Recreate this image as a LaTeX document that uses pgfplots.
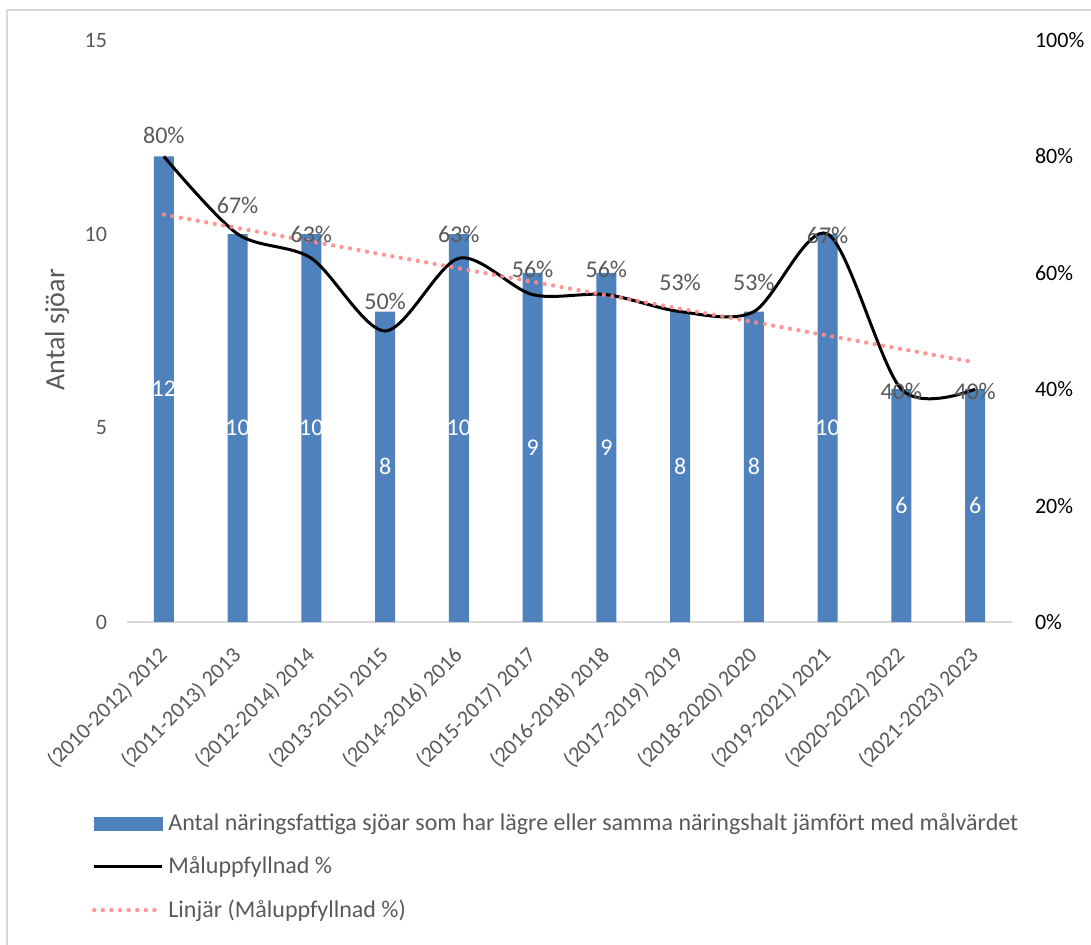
\documentclass[border=0pt]{standalone}
\usepackage{fontspec}
\setmainfont{Carlito}
\usepackage{pgfplots}
\usepackage{pgfplotstable}
\pgfplotsset{compat=1.18}
\definecolor{barblue}{RGB}{79,129,189}
\definecolor{txtgray}{RGB}{89,89,89}
\definecolor{linegray}{RGB}{217,217,217}
\definecolor{trendpink}{RGB}{255,140,140}

\pgfplotstableread{
x n mid
0 12 6
1 10 5
2 10 5
3 8 4
4 10 5
5 9 4.5
6 9 4.5
7 8 4
8 8 4
9 10 5
10 6 3
11 6 3
}\bars

\pgfplotstableread{
x p ly lab
0 80 83.6 80
1 66.67 71.6 67
2 62.5 66.6 63
3 50 55.0 50
4 62.5 66.6 63
5 56.25 60.5 56
6 56.25 60.5 56
7 53.33 58.4 53
8 53.33 58.4 53
9 66.67 66.5 67
10 40 39.6 40
11 40 39.6 40
}\pct

\begin{document}
\begin{tikzpicture}[font=\fontsize{12}{14.4}\selectfont]
\useasboundingbox (0pt,0pt) rectangle (545.5pt,472pt);
\clip (0pt,0pt) rectangle (545.5pt,472pt);
\draw[linegray, line width=0.75pt] (3.5pt,-10pt) -- (3.5pt,467pt) -- (560pt,467pt);

\begin{axis}[
  at={(63.5pt,161pt)}, anchor=south west,
  scale only axis, width=442.5pt, height=291pt,
  xmin=-0.5, xmax=11.5, ymin=0, ymax=15,
  axis x line*=bottom, axis y line*=left,
  x axis line style={linegray, line width=0.75pt},
  y axis line style={draw=none},
  major tick length=0pt,
  /pgf/number format/assume math mode=true,
  tick label style={font=\fontsize{11}{13}\selectfont},
  xtick={0,...,11},
  xticklabels={(2010-2012) 2012,(2011-2013) 2013,(2012-2014) 2014,(2013-2015) 2015,(2014-2016) 2016,(2015-2017) 2017,(2016-2018) 2018,(2017-2019) 2019,(2018-2020) 2020,(2019-2021) 2021,(2020-2022) 2022,(2021-2023) 2023},
  xticklabel style={yshift=-6.5pt, xshift=-3.5pt, rotate=45, anchor=north east, text=txtgray},
  ytick={0,5,10,15}, yticklabels={0,5,10,15},
  yticklabel style={text=txtgray, anchor=east, xshift=-6.5pt},
  ylabel={Antal sjöar},
  ylabel style={at={(rel axis cs:-0.079,0.502)}, anchor=center, rotate=0, text=txtgray, font=\fontsize{14}{16}\selectfont},
  clip=false,
]
\addplot[ybar, bar width=10pt, fill=barblue, draw=none] table[x=x, y=n] {\bars};
\addplot[draw=none, nodes near coords, point meta=explicit symbolic,
  nodes near coords align=center,
  every node near coord/.append style={text=white, anchor=center}]
  table[x=x, y=mid, meta=n] {\bars};
\end{axis}

\begin{axis}[
  at={(63.5pt,161pt)}, anchor=south west,
  scale only axis, width=442.5pt, height=291pt,
  xmin=-0.5, xmax=11.5, ymin=0, ymax=100,
  axis x line=none, axis y line*=right,
  y axis line style={draw=none},
  major tick length=0pt,
  /pgf/number format/assume math mode=true,
  tick label style={font=\fontsize{11}{13}\selectfont},
  ytick={0,20,40,60,80,100}, yticklabels={0\%,20\%,40\%,60\%,80\%,100\%},
  yticklabel style={text=black, anchor=west, xshift=8pt},
  clip=false,
  legend style={at={(-0.040,-0.322)}, anchor=north west, draw=none, fill=none,
    row sep=7.5pt, inner sep=0pt, text=txtgray,
    nodes={inner sep=2pt}},
  legend cell align=left,
]
\addlegendimage{legend image code/.code={\fill[barblue] (0pt,-3.25pt) rectangle (34pt,3.25pt);}}
\addlegendentry{Antal näringsfattiga sjöar som har lägre eller samma näringshalt jämfört med målvärdet}
\addplot[black, line width=1.5pt, smooth, tension=0.5,
  legend image code/.code={\draw[black,line width=1.5pt] (0pt,0pt) -- (34pt,0pt);}]
  table[x=x, y=p] {\pct};
\addlegendentry{Måluppfyllnad \%}
\addplot[trendpink, opacity=0.9, line width=2.2pt, line cap=round, dash pattern=on 0pt off 4.3pt,
  legend image code/.code={\draw[trendpink, opacity=0.9, line width=2.2pt, line cap=round, dash pattern=on 0pt off 4.3pt] (0pt,0pt) -- (34pt,0pt);}]
  coordinates {(0,70.0) (11,44.6)};
\addlegendentry{Linjär (Måluppfyllnad \%)}
\addplot[draw=none, nodes near coords, point meta=explicit symbolic,
  nodes near coords align=center,
  every node near coord/.append style={text=txtgray, anchor=center},
  nodes near coords={\pgfplotspointmeta\%}, forget plot]
  table[x=x, y=ly, meta=lab] {\pct};
\end{axis}
\end{tikzpicture}
\end{document}
